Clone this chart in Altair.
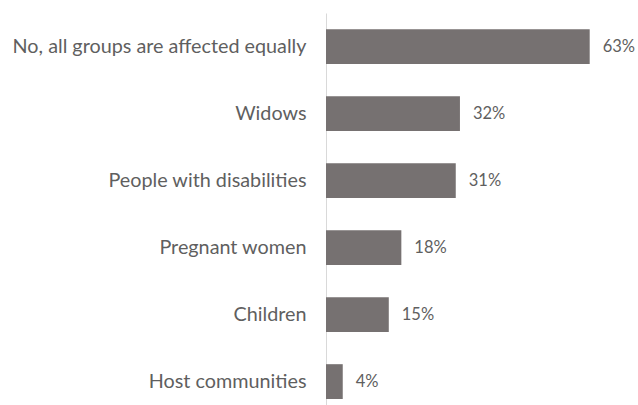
import altair as alt
import pandas as pd

categories = ["No, all groups are affected equally", "Widows", "People with disabilities",
              "Pregnant women", "Children", "Host communities"]
values = [0.63, 0.32, 0.31, 0.18, 0.15, 0.04]

df = pd.DataFrame({"cat": categories, "val": values})

y = alt.Y("cat:N", sort=categories, title=None,
          scale=alt.Scale(paddingInner=0.48, paddingOuter=0.165, align=0.73),
          axis=alt.Axis(ticks=False, labelPadding=20, labelFontSize=19.8, labelColor="#5f5f5f",
                        labelFont="Lato", domainColor="#d9d9d9", domainWidth=1, labelLimit=400))
x = alt.X("val:Q", scale=alt.Scale(domain=[0, 0.7], nice=False), axis=None)

bars = alt.Chart(df).mark_bar(color="#767171").encode(x=x, y=y)
labels = alt.Chart(df).mark_text(align="left", dx=13, font="Lato", fontSize=16.5,
                                 color="#5f5f5f").encode(
    x=x, y=alt.Y("cat:N", sort=categories), text=alt.Text("val:Q", format=".0%"))

chart = (bars + labels).properties(
    width=293, height=392,
    autosize=alt.AutoSizeParams(type="none"),
    padding={"left": 326, "top": 13, "right": 19, "bottom": 0},
).configure(background="white").configure_view(stroke=None)

chart.save("out.html", embed_options={"renderer": "svg", "actions": False})
